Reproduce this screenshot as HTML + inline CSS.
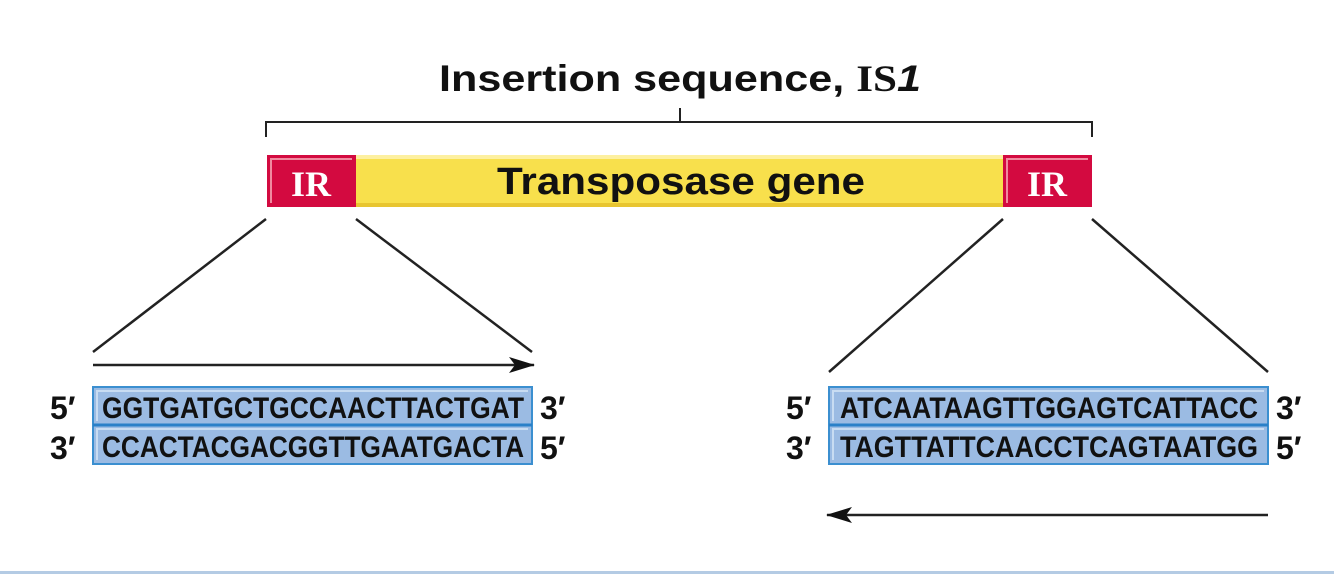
<!DOCTYPE html>
<html><head><meta charset="utf-8"><style>
html,body{margin:0;padding:0;background:#fff;}
svg{display:block;}
.seq{font-family:"Liberation Sans",sans-serif;font-weight:bold;font-size:30px;fill:#111;}
.end{font-family:"Liberation Sans",sans-serif;font-weight:bold;font-size:32px;fill:#111;}
</style></head><body>
<svg width="1334" height="588" viewBox="0 0 1334 588" xmlns="http://www.w3.org/2000/svg">
<defs>
<marker id="ah" markerWidth="26" markerHeight="16" refX="25" refY="8" orient="auto" markerUnits="userSpaceOnUse">
<path d="M0,0 L26,8 L0,16 L6,8 Z" fill="#111"/></marker>
</defs>
<rect width="1334" height="588" fill="#fff"/>
<text x="680" y="91" text-anchor="middle" font-family="Liberation Sans, sans-serif" font-weight="bold" font-size="37" fill="#111" textLength="482" lengthAdjust="spacingAndGlyphs">Insertion sequence, <tspan font-family="Liberation Serif, serif">IS</tspan><tspan font-style="italic">1</tspan></text>
<path d="M266,137 V122 H1092 V137 M680,122 V108" stroke="#222" stroke-width="2" fill="none"/>
<rect x="356" y="155" width="647" height="52" fill="#f8e04c"/>
<rect x="356" y="155" width="647" height="4" fill="#fdf0a0"/>
<rect x="356" y="203" width="647" height="4" fill="#e8c530"/>
<rect x="267" y="155" width="89" height="52" fill="#d30a40"/>
<rect x="1003" y="155" width="89" height="52" fill="#d30a40"/>
<path d="M271,203 V159 H352" stroke="#f08aa0" stroke-width="2" fill="none"/>
<path d="M1007,203 V159 H1088" stroke="#f08aa0" stroke-width="2" fill="none"/>
<text x="311" y="196" text-anchor="middle" font-family="Liberation Serif, serif" font-weight="bold" font-size="36" fill="#fff">IR</text>
<text x="1047" y="196" text-anchor="middle" font-family="Liberation Serif, serif" font-weight="bold" font-size="36" fill="#fff">IR</text>
<text x="681" y="194" text-anchor="middle" font-family="Liberation Sans, sans-serif" font-weight="bold" font-size="38" fill="#111" textLength="368" lengthAdjust="spacingAndGlyphs">Transposase gene</text>
<g stroke="#222" stroke-width="2.5">
<line x1="266" y1="219" x2="93" y2="352"/>
<line x1="356" y1="219" x2="532" y2="352"/>
<line x1="1003" y1="219" x2="829" y2="372"/>
<line x1="1092" y1="219" x2="1268" y2="372"/>
<line x1="93" y1="365" x2="534" y2="365" marker-end="url(#ah)"/>
<line x1="1268" y1="515" x2="827" y2="515" marker-end="url(#ah)"/>
</g>
<g>
<rect x="93" y="387" width="439" height="77" fill="#9bbbe3"/>
<rect x="93" y="387" width="439" height="77" fill="none" stroke="#3b8fd0" stroke-width="2"/>
<line x1="93" y1="425" x2="532" y2="425" stroke="#2a80c8" stroke-width="3"/>
<path d="M97,421 V391 H528 M97,460 V429 H528" stroke="#c8dcf2" stroke-width="2" fill="none"/>
<text class="seq" x="102" y="418" textLength="422" lengthAdjust="spacingAndGlyphs">GGTGATGCTGCCAACTTACTGAT</text>
<text class="seq" x="102" y="457" textLength="422" lengthAdjust="spacingAndGlyphs">CCACTACGACGGTTGAATGACTA</text>
<rect x="829" y="387" width="439" height="77" fill="#9bbbe3"/>
<rect x="829" y="387" width="439" height="77" fill="none" stroke="#3b8fd0" stroke-width="2"/>
<line x1="829" y1="425" x2="1268" y2="425" stroke="#2a80c8" stroke-width="3"/>
<path d="M833,421 V391 H1264 M833,460 V429 H1264" stroke="#c8dcf2" stroke-width="2" fill="none"/>
<text class="seq" x="840" y="418" textLength="418" lengthAdjust="spacingAndGlyphs">ATCAATAAGTTGGAGTCATTACC</text>
<text class="seq" x="840" y="457" textLength="418" lengthAdjust="spacingAndGlyphs">TAGTTATTCAACCTCAGTAATGG</text>
</g>
<text class="end" x="50" y="419">5′</text>
<text class="end" x="50" y="459">3′</text>
<text class="end" x="540" y="419">3′</text>
<text class="end" x="540" y="459">5′</text>
<text class="end" x="786" y="419">5′</text>
<text class="end" x="786" y="459">3′</text>
<text class="end" x="1276" y="419">3′</text>
<text class="end" x="1276" y="459">5′</text>
<rect x="0" y="571" width="1334" height="3" fill="#b4cbe4"/>
</svg>
</body></html>
